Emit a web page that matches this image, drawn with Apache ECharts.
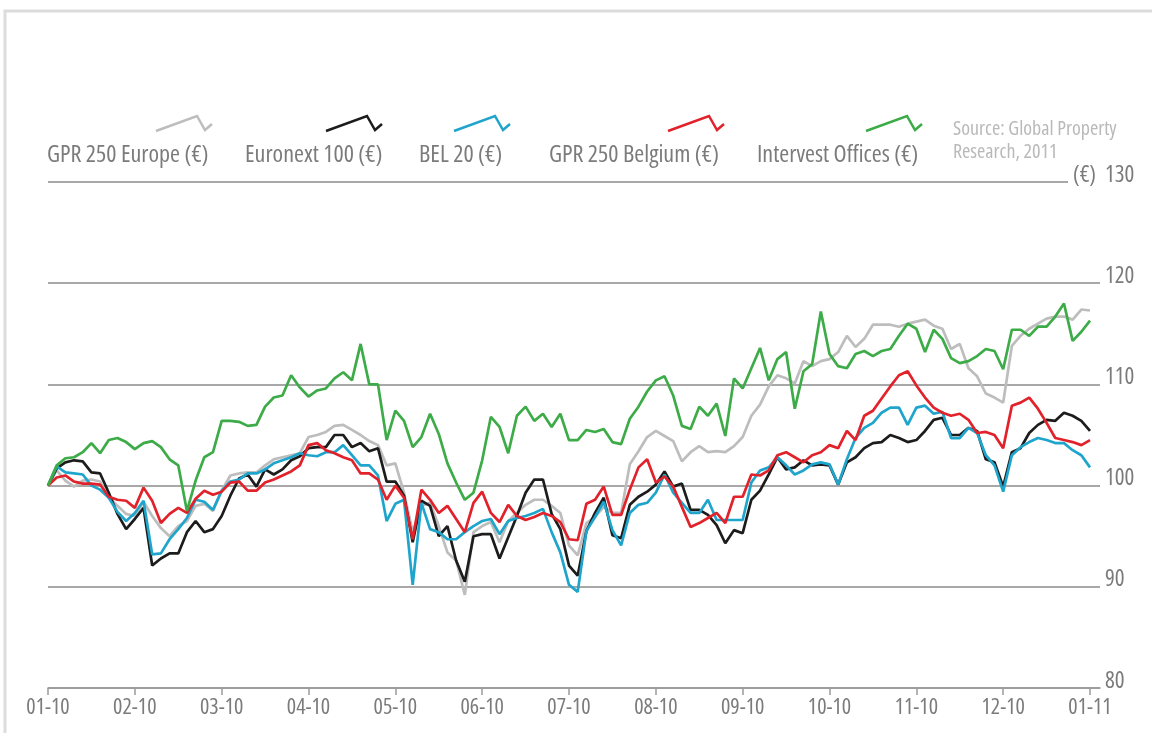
<!DOCTYPE html>
<html>
<head>
<meta charset="utf-8">
<script src="https://cdn.jsdelivr.net/npm/echarts@6/dist/echarts.min.js"></script>
<style>
  html, body { margin: 0; padding: 0; background: #ffffff; }
  #chart { width: 1152px; height: 733px; }
</style>
</head>
<body>
<div id="chart"></div>
<script>
// ---- Data ----
const tickLabels = ['01-10', '02-10', '03-10', '04-10', '05-10', '06-10', '07-10', '08-10', '09-10', '10-10', '11-10', '12-10', '01-11'];
const seriesNames = ['GPR 250 Europe (€)', 'Euronext 100 (€)', 'BEL 20 (€)', 'GPR 250 Belgium (€)', 'Intervest Offices (€)'];
// sample times in months since 01-10 (one sample every tenth of a month)
const months = Array.from({ length: 121 }, (_, i) => i / 10);

const gpr250Europe = [
  100, 101.5, 100.5, 99.9, 100.5, 100.6, 100.4, 98.8, 98, 97.2,
  97, 98.4, 97, 95.8, 95, 96, 96.5, 98, 98.2, 97.5,
  99.5, 101, 101.2, 101.3, 101.3, 102, 102.6, 102.8, 103, 103.2,
  104.8, 105, 105.3, 105.9, 106, 105.5, 105, 104.4, 104, 102,
  102.2, 99.3, 95.4, 98, 98.3, 96, 93.4, 92.6, 89.2, 95.4,
  96, 96.4, 94.4, 96.5, 97.3, 98.1, 98.6, 98.6, 98, 97.3,
  94.1, 93.1, 96.3, 96.9, 97.9, 97.3, 97.3, 102.1, 103.4, 104.8,
  105.4, 104.9, 104.4, 102.4, 103.3, 103.9, 103.3, 103.4, 103.3, 103.9,
  104.8, 106.9, 108, 109.8, 110.9, 110.6, 110.1, 112.3, 111.8, 112.3,
  112.5, 113.2, 114.8, 113.7, 114.5, 115.9, 115.9, 115.9, 115.7, 116,
  116.2, 116.4, 115.8, 115.5, 113.5, 114, 111.6, 110.8, 109.1, 108.7,
  108.2, 113.8, 114.8, 115.5, 116, 116.5, 116.7, 116.7, 116.4, 117.4, 117.3
];
const euronext100 = [
  100, 101.7, 102.3, 102.5, 102.4, 101.3, 101.2, 99.3, 97.2, 95.7,
  96.7, 97.8, 92.1, 92.8, 93.3, 93.3, 95.4, 96.5, 95.4, 95.7,
  97, 99, 100.7, 101.1, 99.9, 101.6, 101.1, 101.6, 102.5, 102.9,
  103.7, 103.8, 103.8, 105, 105, 103.8, 104.2, 103.4, 103.7, 100.4,
  100.4, 99, 94.4, 98.5, 98, 95, 96, 92.6, 90.5, 95,
  95.2, 95.2, 92.8, 94.9, 97, 99.3, 100.6, 100.6, 97.2, 95.7,
  92.1, 91.1, 95.5, 97.3, 98.8, 95.1, 94.8, 98.1, 98.9, 99.4,
  100.1, 101.4, 99.9, 100.2, 97.6, 97.6, 97.1, 96.1, 94.3, 95.6,
  95.3, 98.6, 99.5, 101.1, 102.8, 101.6, 101.8, 102.5, 102, 102.1,
  102, 100.1, 102.3, 102.8, 103.7, 104.2, 104.3, 105, 104.7, 104.3,
  104.5, 105.4, 106.5, 106.7, 105, 105, 105.7, 105.4, 102.6, 102.3,
  99.9, 103.3, 103.7, 105.2, 106, 106.5, 106.4, 107.2, 106.9, 106.4, 105.4
];
const bel20 = [
  100, 101.9, 101.3, 101.2, 101.1, 100, 99.6, 98.8, 97.4, 96.5,
  97.3, 98.5, 93.2, 93.3, 94.7, 95.7, 96.8, 98.6, 98.4, 97.6,
  99.5, 100.4, 100.6, 101.2, 101.2, 101.6, 102.2, 102.5, 102.8, 103.2,
  103, 102.9, 103.3, 103.3, 104, 103, 102, 102, 101, 96.5,
  98.2, 98.6, 90.2, 98.3, 95.7, 95.4, 94.7, 94.7, 95.4, 96,
  96.5, 96.7, 95.2, 96.5, 96.8, 97, 97.3, 97.7, 95.4, 93.4,
  90.2, 89.5, 95.5, 96.9, 98.4, 95.6, 94.1, 97.3, 98.1, 98.3,
  99.3, 101.1, 99.3, 98.3, 97.3, 97.3, 98.6, 96.6, 96.6, 96.6,
  96.6, 100.3, 101.5, 101.8, 102.8, 102, 101.1, 101.5, 102.1, 102.3,
  102.1, 100.1, 102.6, 104.7, 105.7, 106.2, 107.2, 107.7, 107.7, 106,
  107.7, 107.9, 107.1, 107.3, 104.7, 104.7, 105.7, 105.2, 103, 102,
  99.4, 103, 103.8, 104.3, 104.7, 104.5, 104.2, 104.2, 103.5, 103, 101.8
];
const gpr250Belgium = [
  100, 100.8, 101, 100.4, 100.2, 100.2, 100.1, 98.9, 98.6, 98.5,
  97.8, 99.8, 98.5, 96.3, 97.2, 97.8, 97.3, 98.7, 99.5, 99.1,
  99.4, 100.3, 100.4, 99.5, 99.5, 100.3, 100.6, 101, 101.4, 102,
  104, 104.2, 103.5, 103.2, 102.8, 102.5, 101.2, 101.2, 100.6, 98.6,
  100, 98.8, 94.7, 99.6, 98.6, 97.3, 98, 96.7, 95.4, 98.3,
  99.4, 97.3, 96.4, 98.1, 97, 96.6, 96.9, 97.3, 97, 96.4,
  94.7, 94.6, 98.2, 98.6, 99.9, 97.1, 97.1, 99.6, 101.8, 102.6,
  100.3, 100.9, 99.9, 97.9, 95.9, 96.3, 96.8, 97.3, 96.3, 98.9,
  98.9, 101.1, 101, 101.5, 103, 103.3, 102.8, 102.3, 103, 103.3,
  104, 103.7, 105.4, 104.5, 106.9, 107.4, 108.6, 109.8, 110.9, 111.3,
  109.9, 108.7, 107.7, 107.2, 106.9, 107.1, 106.5, 105.2, 105.3, 105,
  103.7, 107.9, 108.2, 108.7, 107.6, 106.2, 104.7, 104.5, 104.3, 104, 104.5
];
const intervestOffices = [
  100, 102, 102.7, 102.8, 103.3, 104.2, 103.2, 104.5, 104.7, 104.3,
  103.6, 104.2, 104.4, 103.8, 102.6, 102, 97.5, 100.5, 102.8, 103.3,
  106.4, 106.4, 106.3, 105.9, 106, 107.8, 108.7, 108.9, 110.9, 109.7,
  108.8, 109.4, 109.6, 110.6, 111.2, 110.4, 114, 110, 110, 104.5,
  107.4, 106.4, 103.8, 104.8, 107.1, 105.1, 102.2, 100.3, 98.6, 99.3,
  102.5, 106.8, 105.8, 103.2, 106.9, 107.8, 106.4, 107.1, 105.8, 107.1,
  104.5, 104.5, 105.5, 105.3, 105.6, 104.3, 104.1, 106.6, 107.8, 109.3,
  110.4, 110.8, 108.9, 105.9, 105.6, 107.8, 106.9, 108.1, 104.9, 110.6,
  109.6, 111.6, 113.6, 110.4, 112.5, 113.2, 107.6, 111.3, 112, 117.2,
  113, 111.8, 111.6, 113, 113.3, 112.8, 113.3, 113.5, 114.8, 116,
  115.5, 113.2, 115.4, 114.5, 112.6, 112.1, 112.3, 112.8, 113.5, 113.3,
  111.5, 115.4, 115.4, 114.8, 115.7, 115.7, 116.7, 118, 114.3, 115.2, 116.3
];
const seriesValues = [gpr250Europe, euronext100, bel20, gpr250Belgium, intervestOffices];
const seriesColors = ['#bdbdbd', '#1c1c1c', '#1fa5cc', '#e2222b', '#3dab47'];
const yTicks = { min: 80, max: 130, interval: 10 };

// ---- Layout ----
const legendTextLeft = [47, 245, 419, 549, 757];
const legendIconRight = [212, 382, 510, 724, 922];

const FAMILY = "'Open Sans'";
const STRETCH = 'condensed';
const TEXT_COLOR = '#7b7b7b';
const chart = echarts.init(document.getElementById('chart'), null, { renderer: 'canvas' });
const tickValues = tickLabels.map((_, i) => i);

const legendGraphics = [];
seriesNames.forEach((name, s) => {
  legendGraphics.push({
    type: 'text', silent: true, x: legendTextLeft[s], y: 155,
    style: { text: name, font: STRETCH + ' 24px ' + FAMILY, fill: TEXT_COLOR, align: 'left', verticalAlign: 'middle' }
  });
  const r = legendIconRight[s];
  legendGraphics.push({
    type: 'polyline', silent: true,
    shape: { points: [[r - 56, 131], [r - 15, 116], [r - 7, 130], [r, 124]] },
    style: { stroke: seriesColors[s], lineWidth: 2.5, fill: null }
  });
});

const option = {
  backgroundColor: '#ffffff',
  animation: false,
  title: {
    text: 'Source: Global Property\nResearch, 2011',
    left: 953, top: 118, padding: 0,
    textStyle: { fontFamily: FAMILY, fontWeight: STRETCH, fontSize: 20, color: '#b9b9b9', lineHeight: 23 }
  },
  grid: { left: 48, right: 52, top: 182, bottom: 45 },
  xAxis: {
    type: 'value', min: 0, max: 12.115,
    axisLine: { show: true, lineStyle: { color: '#9a9a9a', width: 1.5 } },
    axisTick: { show: true, customValues: tickValues, length: 7, lineStyle: { color: '#9a9a9a', width: 1.5 } },
    axisLabel: {
      customValues: tickValues,
      formatter: v => tickLabels[Math.round(v)],
      fontFamily: FAMILY, fontWeight: STRETCH, fontSize: 22, color: TEXT_COLOR, margin: 9
    },
    splitLine: { show: false }
  },
  yAxis: {
    type: 'value', position: 'right',
    min: yTicks.min, max: yTicks.max, interval: yTicks.interval,
    axisLine: { show: false },
    axisTick: { show: false },
    axisLabel: { fontFamily: FAMILY, fontWeight: STRETCH, fontSize: 23, color: TEXT_COLOR, margin: 5, verticalAlign: 'bottom', lineHeight: 14 },
    splitLine: { show: true, lineStyle: { color: '#a8a8a8', width: 2 } }
  },
  graphic: [
    { type: 'rect', z: 1, silent: true, shape: { x: 1068, y: 180, width: 34, height: 4 }, style: { fill: '#ffffff' } },
    { type: 'text', z: 1, silent: true, x: 1096, y: 175,
      style: { text: '(€)', font: STRETCH + ' 23px ' + FAMILY, fill: TEXT_COLOR, align: 'right', verticalAlign: 'middle' } },
    { type: 'rect', z: 1, silent: true, shape: { x: 5, y: 11, width: 1160, height: 740 }, style: { fill: 'none', stroke: '#dcdcdc', lineWidth: 3 } },
    { type: 'group', children: legendGraphics }
  ],
  series: seriesNames.map((name, s) => ({
    name,
    type: 'line',
    symbol: 'none',
    color: seriesColors[s],
    lineStyle: { width: 2.7, color: seriesColors[s] },
    data: months.map((t, i) => [t, seriesValues[s][i]]),
    z: 2 + s
  }))
};
chart.setOption(option);
</script>
</body>
</html>
